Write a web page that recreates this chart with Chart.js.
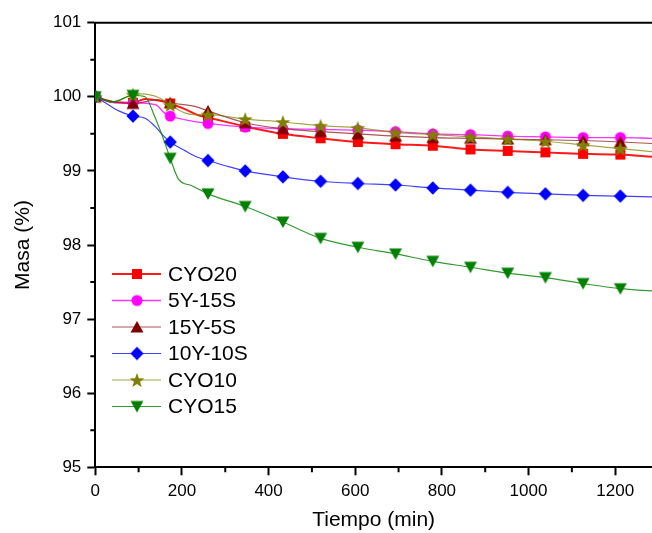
<!DOCTYPE html>
<html>
<head>
<meta charset="utf-8">
<script src="https://cdn.jsdelivr.net/npm/chart.js@4.4.0/dist/chart.umd.min.js"></script>
<style>
  body { margin: 0; background: #fff; }
  canvas { display: block; }
</style>
</head>
<body>
<canvas id="chartMasa" width="652" height="533"></canvas>
<script>
// times (min) where the markers sit
const markerTimes = [0, 87, 173, 260, 346, 433, 520, 606, 693, 779, 866, 952, 1039, 1126, 1212];

// masa (%) at the markers
const cyo20 = [100.0, 99.92, 99.91, 99.72, 99.60, 99.50, 99.44, 99.39, 99.36, 99.34, 99.29, 99.27, 99.25, 99.23, 99.22];
const y5s15 = [100.0, 99.92, 99.74, 99.64, 99.59, 99.57, 99.56, 99.55, 99.53, 99.50, 99.49, 99.47, 99.46, 99.45, 99.45];
const y15s5 = [100.0, 99.91, 99.92, 99.81, 99.65, 99.57, 99.53, 99.50, 99.47, 99.45, 99.44, 99.43, 99.42, 99.41, 99.39];
const y10s10 = [100.0, 99.74, 99.39, 99.14, 99.00, 98.92, 98.86, 98.83, 98.81, 98.77, 98.74, 98.71, 98.69, 98.67, 98.66];
const cyo10 = [100.0, 100.03, 99.89, 99.76, 99.70, 99.66, 99.61, 99.58, 99.52, 99.49, 99.46, 99.43, 99.40, 99.35, 99.30];
const cyo15 = [100.0, 100.02, 99.17, 98.69, 98.52, 98.31, 98.09, 97.97, 97.88, 97.78, 97.70, 97.62, 97.56, 97.48, 97.41];

// extra points of the curves between markers, [time, masa]
const cyo20Line = [[40, 99.93], [115, 99.97], [146, 99.95], [208, 99.83], [238, 99.75], [1285, 99.19]];
const y5s15Line = [[45, 99.92], [140, 99.89], [158, 99.79], [208, 99.69], [1285, 99.44]];
const y15s5Line = [[45, 99.93], [146, 99.96], [230, 99.87], [1285, 99.37]];
const y10s10Line = [[23, 99.92], [54, 99.81], [115, 99.71], [138, 99.60], [158, 99.47], [208, 99.27], [238, 99.18], [300, 99.07], [1285, 98.65]];
const cyo10Line = [[38, 99.93], [108, 100.04], [146, 99.99], [208, 99.78], [230, 99.76], [1285, 99.26]];
const cyo15Line = [[40, 99.93], [115, 100.0], [138, 99.72], [158, 99.42], [192, 98.89], [223, 98.80], [1285, 97.38]];

const xTicks = [0, 200, 400, 600, 800, 1000, 1200];
const xMinor = [100, 300, 500, 700, 900, 1100];
const yTicks = [95, 96, 97, 98, 99, 100, 101];
const yMinor = [95.5, 96.5, 97.5, 98.5, 99.5, 100.5];

function markerImage(shape, color) {
  const c = document.createElement("canvas");
  c.width = 16;
  c.height = 16;
  const g = c.getContext("2d");
  g.fillStyle = color;
  g.beginPath();
  if (shape === "square") {
    g.rect(3, 3, 10, 10);
  } else if (shape === "circle") {
    g.arc(8, 8, 5.5, 0, Math.PI * 2);
  } else if (shape === "triangle") {
    g.moveTo(8, 2); g.lineTo(14.5, 13.5); g.lineTo(1.5, 13.5);
  } else if (shape === "down") {
    g.moveTo(1.5, 2.5); g.lineTo(14.5, 2.5); g.lineTo(8, 14);
  } else if (shape === "diamond") {
    g.moveTo(8, 1.2); g.lineTo(14.6, 8); g.lineTo(8, 14.8); g.lineTo(1.4, 8);
  } else if (shape === "star") {
    for (let k = 0; k < 10; k++) {
      const r = k % 2 === 0 ? 7.8 : 3.2;
      const a = -Math.PI / 2 + (k * Math.PI) / 5;
      const px = 8 + r * Math.cos(a);
      const py = 8.8 + r * Math.sin(a);
      if (k === 0) g.moveTo(px, py); else g.lineTo(px, py);
    }
  }
  g.closePath();
  g.fill();
  return c;
}

function buildPoints(values, extra) {
  const pts = markerTimes.map((t, i) => ({ x: t, y: values[i], m: true }));
  extra.forEach(([t, v]) => pts.push({ x: t, y: v, m: false }));
  return pts.sort((a, b) => a.x - b.x);
}

const series = [
  { label: "CYO20", values: cyo20, extra: cyo20Line, shape: "square", color: "#ff0000", lineColor: "rgba(255,0,0,0.9)", width: 2 },
  { label: "5Y-15S", values: y5s15, extra: y5s15Line, shape: "circle", color: "#ff00ff", lineColor: "rgba(255,0,255,0.8)", width: 1.3 },
  { label: "15Y-5S", values: y15s5, extra: y15s5Line, shape: "triangle", color: "#800000", lineColor: "rgba(140,30,30,0.75)", width: 1.2 },
  { label: "10Y-10S", values: y10s10, extra: y10s10Line, shape: "diamond", color: "#0000ff", lineColor: "rgba(0,0,255,0.75)", width: 1.2 },
  { label: "CYO10", values: cyo10, extra: cyo10Line, shape: "star", color: "#808000", lineColor: "rgba(128,128,0,0.7)", width: 1.2 },
  { label: "CYO15", values: cyo15, extra: cyo15Line, shape: "down", color: "#008000", lineColor: "rgba(0,128,0,0.8)", width: 1.2 },
];
series.forEach((s) => { s.img = markerImage(s.shape, s.color); });

const frameTicks = {
  id: "frameTicks",
  beforeDatasetsDraw(chart) {
    const { ctx, chartArea, scales } = chart;
    ctx.save();
    ctx.strokeStyle = "#000";
    ctx.lineWidth = 2;
    ctx.beginPath();
    xMinor.forEach((v) => {
      const px = scales.x.getPixelForValue(v);
      ctx.moveTo(px, chartArea.bottom);
      ctx.lineTo(px, chartArea.bottom + 5);
    });
    yMinor.forEach((v) => {
      const py = scales.y.getPixelForValue(v);
      ctx.moveTo(chartArea.left, py);
      ctx.lineTo(chartArea.left - 5, py);
    });
    ctx.moveTo(chartArea.left - 1, chartArea.top);
    ctx.lineTo(chartArea.right, chartArea.top);
    ctx.stroke();
    ctx.restore();
  },
};

const insideLegend = {
  id: "insideLegend",
  afterDraw(chart) {
    const ctx = chart.ctx;
    ctx.save();
    ctx.font = '21px "Liberation Sans", Arial, sans-serif';
    ctx.textBaseline = "middle";
    ctx.fillStyle = "#000";
    series.forEach((s, i) => {
      const y = 274 + i * 26.5;
      ctx.strokeStyle = s.lineColor;
      ctx.lineWidth = s.width;
      ctx.beginPath();
      ctx.moveTo(112, y);
      ctx.lineTo(161, y);
      ctx.stroke();
      ctx.drawImage(s.img, 137 - 8, y - 8);
      ctx.fillText(s.label, 168, y + 1);
    });
    ctx.restore();
  },
};

new Chart(document.getElementById("chartMasa"), {
  type: "line",
  data: {
    datasets: series.map((s, i) => ({
      label: s.label,
      data: buildPoints(s.values, s.extra),
      borderColor: s.lineColor,
      borderWidth: s.width,
      backgroundColor: s.color,
      pointStyle: s.img,
      pointRadius: (c) => (c.raw && c.raw.m ? 6 : 0),
      pointHoverRadius: 0,
      cubicInterpolationMode: "monotone",
      order: series.length - 1 - i,
    })),
  },
  options: {
    responsive: false,
    animation: false,
    devicePixelRatio: 1,
    layout: { autoPadding: false, padding: { top: 22.7, left: 0, right: 0, bottom: 0 } },
    plugins: { legend: { display: false }, tooltip: { enabled: false } },
    scales: {
      x: {
        type: "linear",
        min: 0,
        max: 1285,
        afterBuildTicks: (s) => { s.ticks = xTicks.map((v) => ({ value: v })); },
        afterFit: (s) => { s.height = 65.7; s.paddingLeft = 0; s.paddingRight = 0; },
        grid: { drawOnChartArea: false, tickLength: 8, tickWidth: 2, tickColor: "#000" },
        border: { color: "#000", width: 2 },
        ticks: {
          color: "#000",
          padding: 6,
          maxRotation: 0,
          font: { family: "'Liberation Sans', Arial, sans-serif", size: 17 },
          callback: (v) => String(v),
        },
        title: {
          display: true,
          text: "Tiempo (min)",
          color: "#000",
          padding: { top: 0, bottom: 0 },
          font: { family: "'Liberation Sans', Arial, sans-serif", size: 21 },
        },
      },
      y: {
        type: "linear",
        min: 95,
        max: 101,
        afterBuildTicks: (s) => { s.ticks = yTicks.map((v) => ({ value: v })); },
        afterFit: (s) => { s.width = 95.3; s.paddingTop = 0; s.paddingBottom = 0; },
        grid: { drawOnChartArea: false, tickLength: 8, tickWidth: 2, tickColor: "#000" },
        border: { color: "#000", width: 2 },
        ticks: {
          color: "#000",
          padding: 6,
          font: { family: "'Liberation Sans', Arial, sans-serif", size: 17 },
          callback: (v) => String(v),
        },
        title: {
          display: true,
          text: "Masa (%)",
          color: "#000",
          padding: { top: 11, bottom: 0 },
          font: { family: "'Liberation Sans', Arial, sans-serif", size: 21 },
        },
      },
    },
  },
  plugins: [frameTicks, insideLegend],
});
</script>
</body>
</html>
